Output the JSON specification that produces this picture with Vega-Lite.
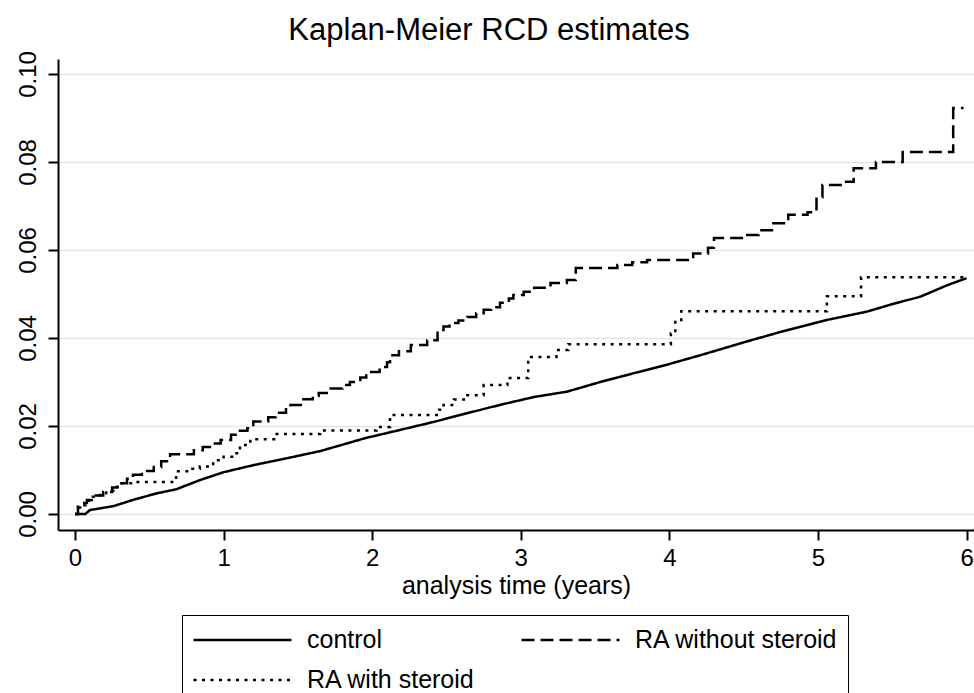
{
  "$schema": "https://vega.github.io/schema/vega-lite/v6.json",
  "autosize": "none",
  "width": 916,
  "height": 471,
  "padding": {"left": 58, "top": 59, "right": 0, "bottom": 163},
  "background": "white",
  "title": {"text": "Kaplan-Meier RCD estimates", "fontSize": 31, "font": "Liberation Sans", "fontWeight": "normal", "color": "black", "anchor": "middle", "frame": "group", "baseline": "alphabetic", "offset": -20, "dx": -27},
  "config": {
    "view": {"stroke": null},
    "font": "Liberation Sans",
    "axis": {"domainColor": "black", "domainWidth": 2, "tickColor": "black", "tickWidth": 2, "tickSize": 10, "labelFont": "Liberation Sans", "labelFontSize": 24, "labelColor": "black", "titleFont": "Liberation Sans", "titleColor": "black", "titleFontWeight": "normal", "labelOverlap": false, "labelFlush": false}
  },
  "datasets": {
    "km": [
      {"series": "control", "t": 0, "v": 0},
      {"series": "control", "t": 0.07, "v": 0},
      {"series": "control", "t": 0.1, "v": 0.0009},
      {"series": "control", "t": 0.26, "v": 0.0018},
      {"series": "control", "t": 0.39, "v": 0.0032},
      {"series": "control", "t": 0.55, "v": 0.0047},
      {"series": "control", "t": 0.68, "v": 0.0056},
      {"series": "control", "t": 0.84, "v": 0.0077},
      {"series": "control", "t": 1.0, "v": 0.0095},
      {"series": "control", "t": 1.2, "v": 0.0111},
      {"series": "control", "t": 1.43, "v": 0.0127},
      {"series": "control", "t": 1.65, "v": 0.0143},
      {"series": "control", "t": 1.96, "v": 0.0173},
      {"series": "control", "t": 2.2, "v": 0.0192},
      {"series": "control", "t": 2.41, "v": 0.0209},
      {"series": "control", "t": 2.65, "v": 0.023},
      {"series": "control", "t": 2.86, "v": 0.0248},
      {"series": "control", "t": 3.09, "v": 0.0266},
      {"series": "control", "t": 3.31, "v": 0.0278},
      {"series": "control", "t": 3.535, "v": 0.030},
      {"series": "control", "t": 3.76, "v": 0.032},
      {"series": "control", "t": 3.98, "v": 0.0339},
      {"series": "control", "t": 4.21, "v": 0.0361},
      {"series": "control", "t": 4.52, "v": 0.0392},
      {"series": "control", "t": 4.75, "v": 0.0414},
      {"series": "control", "t": 5.06, "v": 0.0441},
      {"series": "control", "t": 5.33, "v": 0.046},
      {"series": "control", "t": 5.51, "v": 0.0478},
      {"series": "control", "t": 5.69, "v": 0.0494},
      {"series": "control", "t": 5.87, "v": 0.052},
      {"series": "control", "t": 6.0, "v": 0.0536},

      {"series": "RA without steroid", "t": 0, "v": 0},
      {"series": "RA without steroid", "t": 0.02, "v": 0.0015},
      {"series": "RA without steroid", "t": 0.05, "v": 0.0025},
      {"series": "RA without steroid", "t": 0.08, "v": 0.0032},
      {"series": "RA without steroid", "t": 0.13, "v": 0.0042},
      {"series": "RA without steroid", "t": 0.19, "v": 0.005},
      {"series": "RA without steroid", "t": 0.25, "v": 0.006},
      {"series": "RA without steroid", "t": 0.3, "v": 0.007},
      {"series": "RA without steroid", "t": 0.35, "v": 0.008},
      {"series": "RA without steroid", "t": 0.39, "v": 0.0089},
      {"series": "RA without steroid", "t": 0.45, "v": 0.0098},
      {"series": "RA without steroid", "t": 0.53, "v": 0.0107},
      {"series": "RA without steroid", "t": 0.58, "v": 0.012},
      {"series": "RA without steroid", "t": 0.64, "v": 0.0136},
      {"series": "RA without steroid", "t": 0.8, "v": 0.0145},
      {"series": "RA without steroid", "t": 0.86, "v": 0.0152},
      {"series": "RA without steroid", "t": 0.92, "v": 0.016},
      {"series": "RA without steroid", "t": 0.98, "v": 0.0168},
      {"series": "RA without steroid", "t": 1.05, "v": 0.018},
      {"series": "RA without steroid", "t": 1.11, "v": 0.0189},
      {"series": "RA without steroid", "t": 1.16, "v": 0.0195},
      {"series": "RA without steroid", "t": 1.2, "v": 0.021},
      {"series": "RA without steroid", "t": 1.3, "v": 0.022},
      {"series": "RA without steroid", "t": 1.35, "v": 0.023},
      {"series": "RA without steroid", "t": 1.42, "v": 0.0238},
      {"series": "RA without steroid", "t": 1.45, "v": 0.0248},
      {"series": "RA without steroid", "t": 1.52, "v": 0.0261},
      {"series": "RA without steroid", "t": 1.6, "v": 0.0268},
      {"series": "RA without steroid", "t": 1.64, "v": 0.0275},
      {"series": "RA without steroid", "t": 1.72, "v": 0.0285},
      {"series": "RA without steroid", "t": 1.8, "v": 0.0293},
      {"series": "RA without steroid", "t": 1.85, "v": 0.030},
      {"series": "RA without steroid", "t": 1.92, "v": 0.031},
      {"series": "RA without steroid", "t": 1.96, "v": 0.0323},
      {"series": "RA without steroid", "t": 2.05, "v": 0.0334},
      {"series": "RA without steroid", "t": 2.1, "v": 0.0345},
      {"series": "RA without steroid", "t": 2.12, "v": 0.0361},
      {"series": "RA without steroid", "t": 2.18, "v": 0.037},
      {"series": "RA without steroid", "t": 2.26, "v": 0.0384},
      {"series": "RA without steroid", "t": 2.37, "v": 0.0395},
      {"series": "RA without steroid", "t": 2.44, "v": 0.0418},
      {"series": "RA without steroid", "t": 2.48, "v": 0.0426},
      {"series": "RA without steroid", "t": 2.52, "v": 0.0434},
      {"series": "RA without steroid", "t": 2.58, "v": 0.044},
      {"series": "RA without steroid", "t": 2.64, "v": 0.0448},
      {"series": "RA without steroid", "t": 2.7, "v": 0.0456},
      {"series": "RA without steroid", "t": 2.75, "v": 0.0464},
      {"series": "RA without steroid", "t": 2.8, "v": 0.047},
      {"series": "RA without steroid", "t": 2.86, "v": 0.048},
      {"series": "RA without steroid", "t": 2.92, "v": 0.049},
      {"series": "RA without steroid", "t": 2.95, "v": 0.0498},
      {"series": "RA without steroid", "t": 3.02, "v": 0.0505},
      {"series": "RA without steroid", "t": 3.09, "v": 0.0514},
      {"series": "RA without steroid", "t": 3.2, "v": 0.0525},
      {"series": "RA without steroid", "t": 3.31, "v": 0.0532},
      {"series": "RA without steroid", "t": 3.37, "v": 0.0559},
      {"series": "RA without steroid", "t": 3.65, "v": 0.0566},
      {"series": "RA without steroid", "t": 3.75, "v": 0.0572},
      {"series": "RA without steroid", "t": 3.85, "v": 0.0577},
      {"series": "RA without steroid", "t": 4.16, "v": 0.0592},
      {"series": "RA without steroid", "t": 4.26, "v": 0.0605},
      {"series": "RA without steroid", "t": 4.3, "v": 0.0627},
      {"series": "RA without steroid", "t": 4.5, "v": 0.0634},
      {"series": "RA without steroid", "t": 4.6, "v": 0.0645},
      {"series": "RA without steroid", "t": 4.7, "v": 0.0661},
      {"series": "RA without steroid", "t": 4.8, "v": 0.068},
      {"series": "RA without steroid", "t": 4.93, "v": 0.0686},
      {"series": "RA without steroid", "t": 4.99, "v": 0.072},
      {"series": "RA without steroid", "t": 5.03, "v": 0.0748},
      {"series": "RA without steroid", "t": 5.18, "v": 0.0755},
      {"series": "RA without steroid", "t": 5.24, "v": 0.0786},
      {"series": "RA without steroid", "t": 5.39, "v": 0.080},
      {"series": "RA without steroid", "t": 5.57, "v": 0.0823},
      {"series": "RA without steroid", "t": 5.91, "v": 0.0923},
      {"series": "RA without steroid", "t": 5.98, "v": 0.0923},

      {"series": "RA with steroid", "t": 0, "v": 0},
      {"series": "RA with steroid", "t": 0.02, "v": 0.002},
      {"series": "RA with steroid", "t": 0.07, "v": 0.003},
      {"series": "RA with steroid", "t": 0.12, "v": 0.0039},
      {"series": "RA with steroid", "t": 0.17, "v": 0.0047},
      {"series": "RA with steroid", "t": 0.21, "v": 0.0054},
      {"series": "RA with steroid", "t": 0.26, "v": 0.0062},
      {"series": "RA with steroid", "t": 0.3, "v": 0.007},
      {"series": "RA with steroid", "t": 0.39, "v": 0.0073},
      {"series": "RA with steroid", "t": 0.68, "v": 0.0097},
      {"series": "RA with steroid", "t": 0.78, "v": 0.0103},
      {"series": "RA with steroid", "t": 0.84, "v": 0.0108},
      {"series": "RA with steroid", "t": 0.93, "v": 0.0122},
      {"series": "RA with steroid", "t": 1.0, "v": 0.013},
      {"series": "RA with steroid", "t": 1.07, "v": 0.0138},
      {"series": "RA with steroid", "t": 1.11, "v": 0.0157},
      {"series": "RA with steroid", "t": 1.18, "v": 0.017},
      {"series": "RA with steroid", "t": 1.34, "v": 0.0182},
      {"series": "RA with steroid", "t": 1.65, "v": 0.019},
      {"series": "RA with steroid", "t": 2.03, "v": 0.0198},
      {"series": "RA with steroid", "t": 2.12, "v": 0.0225},
      {"series": "RA with steroid", "t": 2.45, "v": 0.0237},
      {"series": "RA with steroid", "t": 2.48, "v": 0.0248},
      {"series": "RA with steroid", "t": 2.55, "v": 0.026},
      {"series": "RA with steroid", "t": 2.64, "v": 0.027},
      {"series": "RA with steroid", "t": 2.75, "v": 0.0293},
      {"series": "RA with steroid", "t": 2.91, "v": 0.0309},
      {"series": "RA with steroid", "t": 3.05, "v": 0.0357},
      {"series": "RA with steroid", "t": 3.24, "v": 0.0373},
      {"series": "RA with steroid", "t": 3.32, "v": 0.0386},
      {"series": "RA with steroid", "t": 4.01, "v": 0.041},
      {"series": "RA with steroid", "t": 4.04, "v": 0.0441},
      {"series": "RA with steroid", "t": 4.08, "v": 0.0461},
      {"series": "RA with steroid", "t": 5.06, "v": 0.0495},
      {"series": "RA with steroid", "t": 5.29, "v": 0.0538},
      {"series": "RA with steroid", "t": 5.98, "v": 0.0538}
    ]
  },
  "data": {"name": "km"},
  "encoding": {
    "x": {"field": "t", "type": "quantitative", "scale": {"domain": [-0.1145, 6.05], "nice": false, "zero": false},
      "axis": {"values": [0, 1, 2, 3, 4, 5, 6], "format": "d", "grid": false, "labelPadding": 6, "title": "analysis time (years)", "titleFontSize": 25, "titleBaseline": "alphabetic", "titleY": 63}},
    "y": {"field": "v", "type": "quantitative", "scale": {"domain": [-0.003636, 0.10341], "nice": false, "zero": false},
      "axis": {"values": [0, 0.02, 0.04, 0.06, 0.08, 0.1], "format": ".2f", "grid": true, "gridColor": "#e4e4e4", "gridWidth": 1.5, "title": null, "labelAngle": 270, "labelAlign": "center", "labelBaseline": "alphabetic", "labelPadding": 13}},
    "strokeDash": {"field": "series", "type": "nominal",
      "scale": {"domain": ["control", "RA without steroid", "RA with steroid"], "range": [[1, 0], [13, 6], [3, 5.5]]},
      "legend": {"values": ["control", "RA without steroid", "RA with steroid"], "orient": "none", "direction": "horizontal", "legendX": 124, "legendY": 556, "title": null, "columns": 2, "symbolType": "stroke", "symbolSize": 9600, "symbolStrokeWidth": 2.5, "symbolStrokeColor": "black", "labelFontSize": 25, "labelFont": "Liberation Sans", "labelColor": "black", "labelOffset": 14, "columnPadding": 44, "rowPadding": 10, "clipHeight": 30, "padding": 10, "strokeColor": "black", "fillColor": "white", "labelLimit": 500}}
  },
  "layer": [
    {"transform": [{"filter": {"field": "series", "equal": "control"}}],
     "mark": {"type": "line", "color": "black", "strokeWidth": 2.5, "interpolate": "linear"}},
    {"transform": [{"filter": {"not": {"field": "series", "equal": "control"}}}],
     "mark": {"type": "line", "color": "black", "strokeWidth": 2.5, "interpolate": "step-after"}}
  ]
}
